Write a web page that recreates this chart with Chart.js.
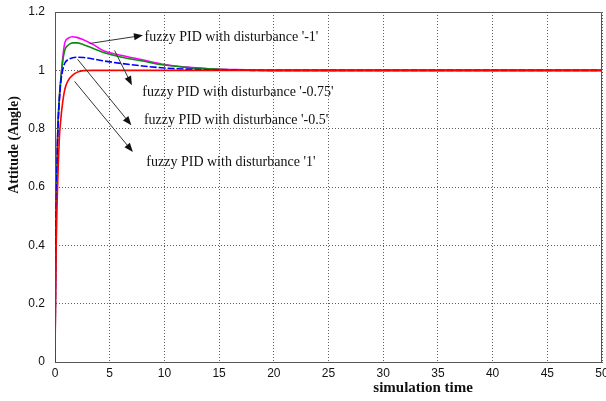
<!DOCTYPE html>
<html>
<head>
<meta charset="utf-8">
<script src="https://cdn.jsdelivr.net/npm/chart.js@4.4.1/dist/chart.umd.min.js"></script>
<style>
  html, body { margin: 0; padding: 0; background: #fff; }
  #wrap { width: 606px; height: 401px; }
</style>
</head>
<body>
<div id="wrap"><canvas id="responseChart" width="606" height="401"></canvas></div>
<script>
// simulation time samples and the four step responses
const timeValues = [0, 0.05, 0.1, 0.2, 0.3, 0.4, 0.5, 0.7, 0.9, 1.2, 1.6, 2, 2.6, 3.5, 4.5, 6, 8, 10, 12, 14, 16, 18, 20, 30, 40, 50];
const distMinus1 = [0, 0.3, 0.5, 0.72, 0.84, 0.9, 0.95, 1.04, 1.095, 1.11, 1.115, 1.113, 1.105, 1.088, 1.066, 1.052, 1.036, 1.02, 1.011, 1.005, 1.003, 1.001, 1, 1, 1, 1];
const distMinus075 = [0, 0.3, 0.5, 0.72, 0.84, 0.91, 0.96, 1.03, 1.07, 1.086, 1.094, 1.094, 1.088, 1.075, 1.06, 1.046, 1.032, 1.018, 1.01, 1.005, 1.002, 1.001, 1, 1, 1, 1];
const distMinus05 = [0, 0.28, 0.48, 0.7, 0.83, 0.9, 0.95, 1.0, 1.025, 1.037, 1.043, 1.045, 1.044, 1.039, 1.032, 1.024, 1.015, 1.008, 1.004, 1.002, 1.001, 1, 1, 1, 1, 1];
const distPlus1 = [0, 0.22, 0.38, 0.56, 0.68, 0.77, 0.82, 0.89, 0.935, 0.965, 0.983, 0.993, 0.999, 1, 1, 1, 1, 1, 1, 1, 1, 1, 1, 1, 1, 1];

const xTickValues = [0, 5, 10, 15, 20, 25, 30, 35, 40, 45, 50];
const yTickValues = [0, 0.2, 0.4, 0.6, 0.8, 1, 1.2];
const yTickLabels = ['0', '0.2', '0.4', '0.6', '0.8', '1', '1.2'];

// arrows pointing at the curves, in data units
const notes = [
    { text: "fuzzy PID with disturbance '-1'", from: [3.16, 1.092], to: [8.04, 1.120], at: [8.19, 1.114] },
    { text: "fuzzy PID with disturbance '-0.75'", from: [5.45, 1.068], to: [7.03, 0.949], at: [7.98, 0.926] },
    { text: "fuzzy PID with disturbance '-0.5'", from: [2.06, 1.038], to: [6.98, 0.812], at: [8.13, 0.829] },
    { text: "fuzzy PID with disturbance '1'", from: [1.79, 0.962], to: [7.12, 0.720], at: [8.35, 0.686] }
];

const toPoints = vals => timeValues.map((t, i) => ({ x: t, y: vals[i] }));

function series(label, vals, color, order, dash) {
    return {
        label: label,
        data: toPoints(vals),
        borderColor: color,
        borderWidth: 1.6,
        borderDash: dash || [],
        pointRadius: 0,
        fill: false,
        cubicInterpolationMode: 'monotone',
        order: order
    };
}

const framePlugin = {
    id: 'frame',
    afterDraw(chart) {
        const { ctx, chartArea: a, scales } = chart;
        ctx.save();
        // box on top and right like the matlab axes
        ctx.strokeStyle = '#555';
        ctx.lineWidth = 1;
        ctx.beginPath();
        ctx.moveTo(a.left, a.top + 0.5);
        ctx.lineTo(a.right - 0.5, a.top + 0.5);
        ctx.lineTo(a.right - 0.5, a.bottom);
        ctx.stroke();

        // annotations
        ctx.font = '14px "Liberation Serif", "Times New Roman", serif';
        ctx.fillStyle = '#111';
        ctx.textBaseline = 'middle';
        notes.forEach(n => {
            const x1 = scales.x.getPixelForValue(n.from[0]);
            const y1 = scales.y.getPixelForValue(n.from[1]);
            const x2 = scales.x.getPixelForValue(n.to[0]);
            const y2 = scales.y.getPixelForValue(n.to[1]);
            const ang = Math.atan2(y2 - y1, x2 - x1);
            ctx.strokeStyle = '#333';
            ctx.lineWidth = 1;
            ctx.beginPath();
            ctx.moveTo(x1, y1);
            ctx.lineTo(x2 - 6 * Math.cos(ang), y2 - 6 * Math.sin(ang));
            ctx.stroke();
            ctx.beginPath();
            ctx.moveTo(x2, y2);
            ctx.lineTo(x2 - 9 * Math.cos(ang) + 3.5 * Math.sin(ang), y2 - 9 * Math.sin(ang) - 3.5 * Math.cos(ang));
            ctx.lineTo(x2 - 9 * Math.cos(ang) - 3.5 * Math.sin(ang), y2 - 9 * Math.sin(ang) + 3.5 * Math.cos(ang));
            ctx.closePath();
            ctx.fillStyle = '#111';
            ctx.fill();
            ctx.fillText(n.text, scales.x.getPixelForValue(n.at[0]), scales.y.getPixelForValue(n.at[1]));
        });

        // axis titles
        ctx.font = 'bold 15px "Liberation Serif", "Times New Roman", serif';
        ctx.textAlign = 'center';
        ctx.fillText('simulation time', a.left + (a.right - a.left) * 0.673, 388);
        ctx.translate(14, 145);
        ctx.rotate(-Math.PI / 2);
        ctx.font = 'bold 14px "Liberation Serif", "Times New Roman", serif';
        ctx.fillText('Attitude (Angle)', 0, 0);
        ctx.restore();
    }
};

const tickFont = { family: '"Liberation Sans", Arial, sans-serif', size: 12 };
const gridStyle = {
    color: ctx => (ctx.tick && (ctx.index === 0)) ? 'rgba(0,0,0,0)' : 'rgba(40,40,40,0.75)',
    lineWidth: 1,
    drawTicks: false
};

new Chart(document.getElementById('responseChart').getContext('2d'), {
    type: 'line',
    data: {
        datasets: [
            series("disturbance '-1'", distMinus1, '#ff00ff', 3),
            series("disturbance '-0.75'", distMinus075, '#118a11', 2),
            series("disturbance '-0.5'", distMinus05, '#0000ff', 1, [7, 2]),
            series("disturbance '1'", distPlus1, '#ff0000', 0)
        ]
    },
    options: {
        responsive: false,
        animation: false,
        layout: { padding: { left: 0, top: 12, right: 4, bottom: 0 } },
        plugins: { legend: { display: false }, tooltip: { enabled: false } },
        scales: {
            x: {
                type: 'linear',
                min: 0,
                max: 50,
                afterBuildTicks: s => { s.ticks = xTickValues.map(v => ({ value: v })); },
                afterFit: s => { s.height = 39; s.paddingLeft = 0; s.paddingRight = 0; },
                ticks: { font: tickFont, color: '#111', padding: 4, maxRotation: 0, autoSkip: false },
                grid: gridStyle,
                border: { display: true, color: '#555', width: 1, dash: [1, 2] }
            },
            y: {
                min: 0,
                max: 1.2,
                afterBuildTicks: s => { s.ticks = yTickValues.map(v => ({ value: v })); },
                afterFit: s => { s.width = 55; s.paddingTop = 0; s.paddingBottom = 0; },
                ticks: {
                    font: tickFont,
                    color: '#111',
                    padding: 10,
                    autoSkip: false,
                    callback: (v, i) => yTickLabels[i]
                },
                grid: gridStyle,
                border: { display: true, color: '#555', width: 1, dash: [1, 2] }
            }
        }
    },
    plugins: [framePlugin]
});
</script>
</body>
</html>
